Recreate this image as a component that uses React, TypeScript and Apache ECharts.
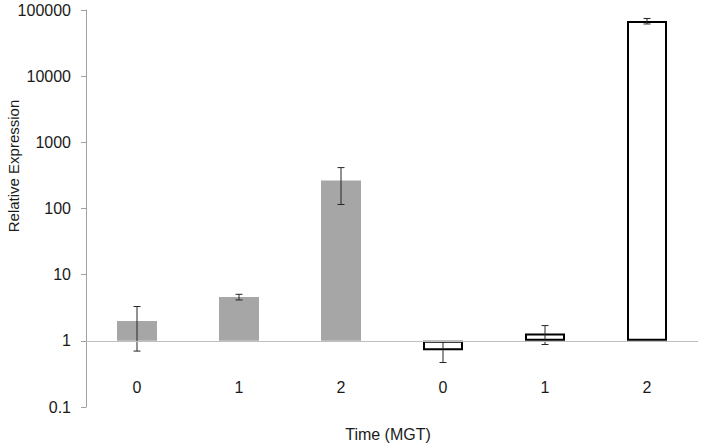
import React, { useEffect, useRef } from "react";
import * as echarts from "echarts";

const categories = ["0", "1", "2", "0", "1", "2"];
const barFills = ["#a6a6a6", "#a6a6a6", "#a6a6a6", "#ffffff", "#ffffff", "#ffffff"];
const barBorders = [0, 0, 0, 2, 2, 2];
const means = [2.0, 4.6, 265, 0.72, 1.29, 68000];
const errors = [1.3, 0.45, 150, 0.25, 0.41, 6500];
const yTickLabels = ["0.1", "1", "10", "100", "1000", "10000", "100000"];
const baselineValue = 1;

const FONT = "'Liberation Sans', Arial, sans-serif";

export default function App() {
  const ref = useRef<HTMLDivElement>(null);
  useEffect(() => {
    if (!ref.current) return;
    const chart = echarts.init(ref.current, undefined, { renderer: "svg" });
    const barData = means.map((v, i) => ({
      value: v,
      itemStyle: {
        color: barFills[i],
        borderColor: "#000000",
        borderWidth: barBorders[i],
      },
    }));
    const errData = means.map((v, i) => [i, v - errors[i], v + errors[i]]);
    chart.setOption({
      animation: false,
      grid: { left: 86, right: 3, top: 10, bottom: 39, containLabel: false },
      xAxis: {
        type: "category",
        data: categories,
        axisLine: { show: false },
        axisTick: { show: false },
        axisLabel: {
          margin: -27.5,
          color: "#1a1a1a",
          fontSize: 16,
          fontFamily: FONT,
          interval: 0,
        },
      },
      yAxis: {
        type: "log",
        logBase: 10,
        min: 0.1,
        max: 100000,
        splitLine: { show: false },
        axisLine: { show: true, lineStyle: { color: "#a0a0a0", width: 1 } },
        axisTick: { show: true, inside: false, length: 5, lineStyle: { color: "#a0a0a0" } },
        minorTick: { show: false },
        axisLabel: {
          margin: 15,
          color: "#1a1a1a",
          fontSize: 16,
          fontFamily: FONT,
          formatter: (v: number) => {
            const idx = Math.round(Math.log10(v)) + 1;
            return yTickLabels[idx] ?? String(v);
          },
        },
      },
      graphic: [
        {
          type: "text",
          x: 13,
          y: 166,
          rotation: Math.PI / 2,
          style: {
            text: "Relative Expression",
            fontSize: 15,
            fontFamily: FONT,
            fill: "#1a1a1a",
            textAlign: "center",
            textVerticalAlign: "middle",
          },
        },
        {
          type: "text",
          x: 388,
          y: 434,
          style: {
            text: "Time (MGT)",
            fontSize: 16,
            fontFamily: FONT,
            fill: "#1a1a1a",
            textAlign: "center",
            textVerticalAlign: "middle",
          },
        },
      ],
      series: [
        {
          type: "line",
          data: [],
          z: 1,
          silent: true,
          markLine: {
            silent: true,
            symbol: "none",
            label: { show: false },
            lineStyle: { color: "#bfbfbf", width: 1, type: "solid" },
            data: [{ yAxis: baselineValue }],
          },
        },
        {
          type: "bar",
          data: barData,
          barWidth: 40,
          z: 2,
        },
        {
          type: "custom",
          z: 3,
          data: errData,
          encode: { x: 0, y: [1, 2] },
          renderItem: (params: any, api: any) => {
            const x = api.value(0);
            const lo = api.value(1);
            const hi = api.value(2);
            const pLo = api.coord([x, lo]);
            const pHi = api.coord([x, hi]);
            const half = 3.5;
            const st = { stroke: "#262626", lineWidth: 1 };
            return {
              type: "group",
              children: [
                { type: "line", shape: { x1: pLo[0], y1: pLo[1], x2: pHi[0], y2: pHi[1] }, style: st },
                { type: "line", shape: { x1: pLo[0] - half, y1: pLo[1], x2: pLo[0] + half, y2: pLo[1] }, style: st },
                { type: "line", shape: { x1: pHi[0] - half, y1: pHi[1], x2: pHi[0] + half, y2: pHi[1] }, style: st },
              ],
            };
          },
        },
      ],
    });
    return () => chart.dispose();
  }, []);
  return (
    <div
      ref={ref}
      style={{ position: "fixed", left: 0, top: 0, width: 701, height: 446, background: "#ffffff" }}
    />
  );
}
